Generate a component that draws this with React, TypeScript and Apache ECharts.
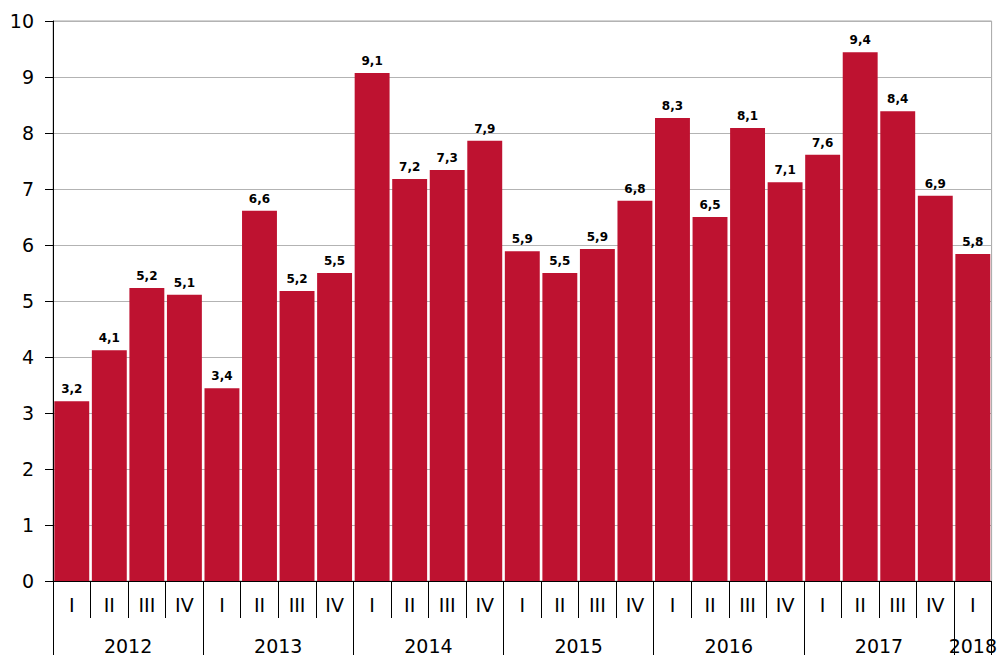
import React, { useEffect, useRef } from "react";
import * as echarts from "echarts";

const quarters = [
  "I", "II", "III", "IV",
  "I", "II", "III", "IV",
  "I", "II", "III", "IV",
  "I", "II", "III", "IV",
  "I", "II", "III", "IV",
  "I", "II", "III", "IV",
  "I",
];
const values = [
  3.21, 4.12, 5.23, 5.11,
  3.44, 6.61, 5.18, 5.5,
  9.07, 7.18, 7.34, 7.86,
  5.89, 5.5, 5.93, 6.79,
  8.27, 6.5, 8.09, 7.12,
  7.61, 9.44, 8.39, 6.88,
  5.84,
];
const years = ["2012", "2013", "2014", "2015", "2016", "2017", "2018"];
const quartersPerYear = [4, 4, 4, 4, 4, 4, 1];
const yTicks = [0, 10, 1]; // min, max, interval

const FONT = "Verdana, 'DejaVu Sans', sans-serif";

export default function App() {
  const ref = useRef<HTMLDivElement>(null);
  useEffect(() => {
    if (!ref.current) return;
    const chart = echarts.init(ref.current, undefined, { renderer: "svg" });

    const boundaries: number[] = [0];
    const centers: number[] = [];
    quartersPerYear.forEach((n) => {
      const start = boundaries[boundaries.length - 1];
      centers.push(start + n / 2);
      boundaries.push(start + n);
    });

    chart.setOption({
      animation: false,
      grid: {
        left: 53,
        right: 7,
        top: 21,
        bottom: 74,
        show: true,
        borderColor: "#a6a6a6",
        borderWidth: 1,
      },
      xAxis: [
        {
          type: "category",
          data: quarters,
          position: "bottom",
          axisLine: { show: true, lineStyle: { color: "#000", width: 1 } },
          axisTick: {
            show: true,
            interval: 0,
            alignWithLabel: false,
            length: 37,
            lineStyle: { color: "#000", width: 1 },
          },
          axisLabel: {
            interval: 0,
            margin: 14,
            fontFamily: FONT,
            fontSize: 19,
            color: "#000",
          },
          splitLine: { show: false },
        },
        {
          type: "value",
          min: 0,
          max: quarters.length,
          position: "bottom",
          axisLine: { show: false },
          splitLine: { show: false },
          axisTick: {
            show: true,
            customValues: boundaries,
            length: 80,
            lineStyle: { color: "#000", width: 1 },
          },
          axisLabel: {
            show: true,
            customValues: centers,
            margin: 55,
            fontFamily: FONT,
            fontSize: 19,
            color: "#000",
            formatter: (v: number) => {
              const i = centers.findIndex((c) => Math.abs(c - v) < 1e-6);
              return i >= 0 ? years[i] : "";
            },
          },
        },
      ],
      yAxis: {
        type: "value",
        min: yTicks[0],
        max: yTicks[1],
        interval: yTicks[2],
        axisLine: { show: true, lineStyle: { color: "#000", width: 1 } },
        axisTick: { show: true, length: 8, lineStyle: { color: "#000" } },
        axisLabel: {
          margin: 19,
          fontFamily: FONT,
          fontSize: 19,
          color: "#000",
        },
        splitLine: { show: true, lineStyle: { color: "#b3b3b3", width: 1 } },
      },
      series: [
        {
          type: "bar",
          data: values,
          xAxisIndex: 0,
          barCategoryGap: "7%",
          itemStyle: { color: "#BE1230" },
          label: {
            show: true,
            position: "top",
            distance: 6,
            fontFamily: FONT,
            fontWeight: "bold",
            fontSize: 12,
            color: "#000",
            formatter: (p: any) => p.value.toFixed(1).replace(".", ","),
          },
        },
      ],
    });
    return () => chart.dispose();
  }, []);
  return (
    <div
      ref={ref}
      style={{ position: "fixed", left: 0, top: 0, width: 1000, height: 655, background: "#fff" }}
    />
  );
}
